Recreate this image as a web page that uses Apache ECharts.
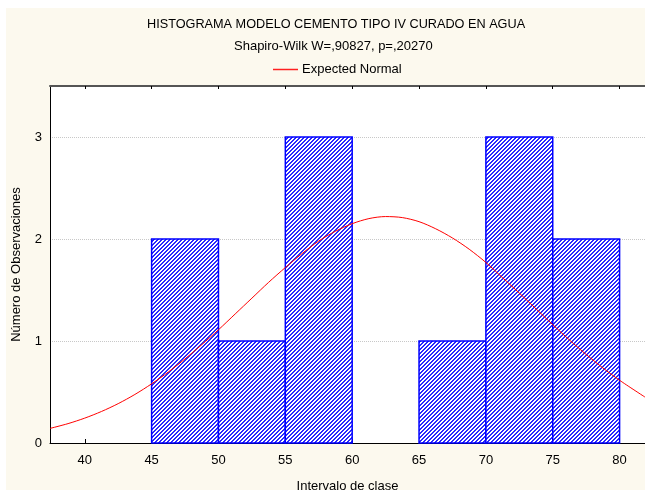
<!DOCTYPE html>
<html>
<head>
<meta charset="utf-8">
<script src="https://cdn.jsdelivr.net/npm/echarts@6/dist/echarts.min.js"></script>
<style>
html,body{margin:0;padding:0;background:#fff;}
#c{width:645px;height:490px;}
</style>
</head>
<body>
<div id="c"></div>
<script>
const titleText = 'HISTOGRAMA MODELO CEMENTO TIPO IV CURADO EN AGUA';
const subtitleText = 'Shapiro-Wilk W=,90827, p=,20270';
const legendName = 'Expected Normal';
const xName = 'Intervalo de clase';
const yName = 'Número de Observaciones';

const binStart = [45, 50, 55, 60, 65, 70, 75];
const binEnd   = [50, 55, 60, 65, 70, 75, 80];
const counts   = [2, 1, 3, 0, 1, 3, 2];

const xTickValues = [40, 45, 50, 55, 60, 65, 70, 75, 80];
const yTickValues = [0, 1, 2, 3];

const curveX = [37.4, 38.75, 40, 41.25, 42.5, 43.75, 45, 46.25, 47.5, 48.75, 50, 51.25, 52.5, 53.75, 55, 56.25, 57.5, 58.75, 60, 61.25, 62.5, 63.75, 65, 66.25, 67.5, 68.75, 70, 71.25, 72.5, 73.75, 75, 76.25, 77.5, 78.75, 80, 81.9];
const curveY = [0.143, 0.19, 0.244, 0.309, 0.386, 0.476, 0.58, 0.696, 0.825, 0.964, 1.11, 1.265, 1.42, 1.575, 1.72, 1.857, 1.98, 2.076, 2.15, 2.2, 2.22, 2.21, 2.17, 2.1, 2.01, 1.9, 1.77, 1.62, 1.47, 1.315, 1.16, 1.01, 0.868, 0.736, 0.615, 0.45];

const xMin = 37.4, xMax = 81.9, yMin = 0, yMax = 3.5;

function makePattern() {
  const c = document.createElement('canvas');
  c.width = 4; c.height = 4;
  const ctx = c.getContext('2d');
  const img = ctx.createImageData(4, 4);
  for (let y = 0; y < 4; y++) for (let x = 0; x < 4; x++) {
    const i = (y * 4 + x) * 4;
    const on = ((x + y) % 4) < 2;
    img.data[i] = on ? 40 : 255;
    img.data[i + 1] = on ? 40 : 255;
    img.data[i + 2] = 255;
    img.data[i + 3] = 255;
  }
  ctx.putImageData(img, 0, 0);
  return c;
}
const patternCanvas = makePattern();

const barData = binStart.map((s, i) => [s, binEnd[i], counts[i]]);
const lineData = curveX.map((x, i) => [x, curveY[i]]);

const chart = echarts.init(document.getElementById('c'), null, {renderer: 'canvas'});
const fontFamily = 'Liberation Sans, Arial, sans-serif';

chart.setOption({
  backgroundColor: '#ffffff',
  animation: false,
  textStyle: {fontFamily: fontFamily},
  graphic: [{
    type: 'rect', z: -10, silent: true,
    shape: {x: 6, y: 8, width: 639, height: 482},
    style: {fill: '#fcf9ee'}
  }],
  title: [
    {text: titleText, left: 142, top: 13,
     textStyle: {fontSize: 12.7, fontWeight: 'normal', color: '#000', fontFamily: fontFamily}},
    {text: subtitleText, left: 229, top: 35,
     textStyle: {fontSize: 13, fontWeight: 'normal', color: '#000', fontFamily: fontFamily}}
  ],
  legend: {
    data: [legendName], left: 268, top: 58,
    icon: 'rect', itemWidth: 25, itemHeight: 1.5, itemGap: 4,
    textStyle: {fontSize: 13, color: '#000', fontFamily: fontFamily, padding: [0, 0, 0, -1]}
  },
  grid: {left: 50, right: 0, top: 86, bottom: 47, outerBoundsMode: 'none', containLabel: false,
         show: true, backgroundColor: '#ffffff', borderWidth: 0},
  xAxis: [{
    type: 'value', min: xMin, max: xMax,
    name: xName, nameLocation: 'middle', nameGap: 37,
    nameTextStyle: {fontSize: 13, color: '#000'},
    axisLine: {show: true, lineStyle: {color: '#000', width: 1}},
    axisTick: {show: true, inside: true, length: 4, customValues: xTickValues, lineStyle: {color: '#000'}},
    axisLabel: {color: '#000', fontSize: 13, margin: 11, customValues: xTickValues},
    splitLine: {show: false}
  }, {
    type: 'value', position: 'top', min: xMin, max: xMax,
    axisLine: {show: true, lineStyle: {color: '#555', width: 2}},
    axisTick: {show: true, inside: true, length: 3, customValues: xTickValues, lineStyle: {color: '#000'}},
    axisLabel: {show: false}, splitLine: {show: false}
  }],
  yAxis: {
    type: 'value', min: yMin, max: yMax, interval: 1,
    name: yName, nameLocation: 'middle', nameGap: 27, nameRotate: 90,
    nameTextStyle: {fontSize: 13, color: '#000'},
    axisLine: {show: true, lineStyle: {color: '#000', width: 1}},
    axisTick: {show: false},
    axisLabel: {color: '#000', fontSize: 13, margin: 8, customValues: yTickValues},
    splitLine: {show: true, lineStyle: {color: '#c8c8c8', type: 'dotted', width: 1}}
  },
  series: [{
    type: 'custom', name: 'Histograma', xAxisIndex: 0,
    data: barData, encode: {x: [0, 1], y: 2},
    z: 2,
    renderItem: function (params, api) {
      const h = api.value(2);
      if (!h) return null;
      const p0 = api.coord([api.value(0), h]);
      const p1 = api.coord([api.value(1), 0]);
      return {
        type: 'rect',
        shape: {x: p0[0], y: p0[1], width: p1[0] - p0[0], height: p1[1] - p0[1]},
        style: {fill: {image: patternCanvas, repeat: 'repeat'}, stroke: '#0000ff', lineWidth: 1.5}
      };
    }
  }, {
    type: 'line', name: legendName, xAxisIndex: 0,
    data: lineData, smooth: 0.3, showSymbol: false, z: 5,
    lineStyle: {color: '#ff0000', width: 1}, itemStyle: {color: '#ff2020'}
  }]
});
</script>
</body>
</html>
